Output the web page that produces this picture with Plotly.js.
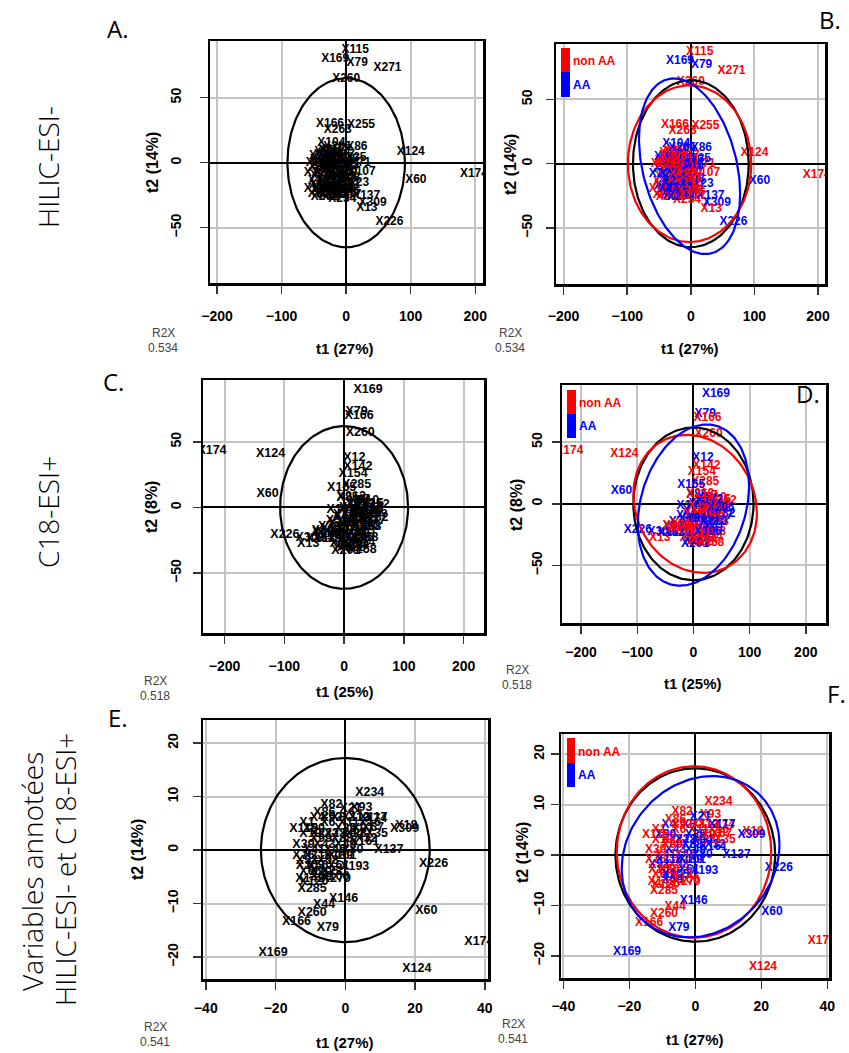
<!DOCTYPE html>
<html><head><meta charset="utf-8">
<script src="https://cdn.plot.ly/plotly-3.0.1.min.js"></script>
<style>html,body{margin:0;padding:0;background:#fff}</style>
</head><body><div id="chart" style="width:849px;height:1053px"></div>
<script>
// ---------- HILIC-ESI- (panels A, B) ----------
const hilicLabels = ["X115","X169","X79","X271","X260","X166","X255","X263","X124","X60","X174","X137","X309","X13","X226","X80","X234","X19","X86","X104","X71","X107","X23","X35",
 "X2","X5","X9","X14","X17","X20","X27","X31","X36","X40","X45","X48","X52","X57","X63","X66","X70","X75","X81","X84","X90","X95","X98","X102","X108","X113","X118","X121","X127","X131","X135","X140","X145","X150","X156","X162","X170","X178","X183","X190",
 "X200","X203","X207","X211","X215","X219","X222","X225","X229","X232","X236","X240","X244","X248","X252","X257","X265","X268","X274","X277"];
const hilicT1 = [14,-17,17,64,0,-25,23,-13,100,108,198,31,41,32,67,-43,-6,-38,16.5,-23,22,24,19,15,
 -38,-30,-20,-10,-3,-40,-32,-24,-15,-6,3,-42,-34,-26,-17,-8,1,-39,-30,-21,-12,-3,5,-36,-27,-18,-9,0,-33,-24,-15,-6,-38,-20,-12,-28,-5,-16,-44,-22,
 -36,-28,-18,-8,-2,-34,-44,-13,-25,-4,-30,-10,-20,-1,-41,-22,-14,-33,-16,2];
const hilicT2 = [87,80,76.5,72.5,64,30,29,25.5,8,-13.5,-9,-25.5,-31,-35,-45.5,-24,-28,-21,12.3,15.5,-0.5,-7.5,-15.5,4,
 8,9,7,8,6,2,3,1,2,0,2,-4,-5,-3,-6,-4,-6,-10,-12,-10,-12,-11,-12,-17,-18,-16,-18,-17,-22,-23,-22,-24,-14,4,-2,-8,-8,-14,-20,-25,
 5,6,-1,3,-2,-1,-8,-8,-14,-15,-20,-21,-19,-21,0,10,12,-26,-26,-25];
const hilicGroup = [1,2,2,1,1,1,1,1,1,2,1,2,2,1,2,1,1,2,2,2,1,1,2,2,
 1,1,1,2,1,1,2,2,1,2,2,2,1,2,2,1,2,1,2,1,2,1,2,2,1,2,1,2,1,2,1,2,1,2,1,2,1,1,1,2,
 2,1,2,1,2,1,2,1,2,1,2,1,2,1,1,1,2,1,2,1];
// ellipses: index 0 = all samples, 1 = non AA, 2 = AA
const hilicEllCx = [0,-2,-2], hilicEllCy = [0,0,-2], hilicEllRx = [91,97,79.5], hilicEllRy = [65,61,68.4], hilicEllRho = [0,0,-0.31];

// ---------- C18-ESI+ (panels C, D) ----------
const c18Labels = ["X169","X79","X166","X260","X174","X124","X12","X142","X154","X285","X165","X85","X60","X226","X309","X13","X259","X288",
 "X3","X7","X10","X15","X18","X22","X26","X30","X34","X38","X42","X47","X51","X55","X59","X64","X68","X72","X77","X83","X87","X91","X96","X100","X104","X109","X114","X119","X123","X128","X132","X136","X141","X147","X152","X158","X163",
 "X170","X172","X175","X177","X180","X182","X185","X187","X191","X194","X196","X198","X201","X204","X206","X208","X210","X213"];
const c18T1 = [40,21,25,27,-221,-123,17,23,15,21,-4,6,-128,-99,-57,-60,7,33,
 20,30,40,48,10,22,35,46,0,14,27,40,-12,5,18,32,44,-25,-8,8,22,36,-35,-18,-3,14,28,-28,0,12,50,40,25,-5,52,30,-40,
 15,28,38,45,6,19,33,-15,-2,10,25,-22,3,18,48,-30,35,12];
const c18T2 = [89.5,73,70,57,43,40.5,37.5,31,26,17.5,15,7,10.7,-21,-23,-27.5,-30,-23,
 5,6,5,3,0,1,0,-2,-6,-5,-6,-8,-10,-12,-11,-14,-15,-15,-17,-18,-19,-20,-19,-22,-24,-25,-27,-24,-28,-31,-8,-1,-12,-2,2,-32,-24,
 -2,3,-4,-10,-8,-15,-9,-16,-12,-21,-23,-20,-33,-29,-3,-18,-15,8];
const c18Group = [2,2,1,1,1,1,2,1,1,1,2,2,2,2,2,1,2,1,
 2,1,1,1,2,2,1,2,2,1,2,1,2,2,1,2,1,2,1,2,1,2,2,1,1,2,1,2,1,1,2,1,1,2,1,1,2,
 1,2,1,2,1,2,1,1,2,1,2,1,2,1,2,1,2,1];
const c18EllCx = [0,3,0], c18EllCy = [0,0,-1], c18EllRx = [107,110,99], c18EllRy = [62,56,65.4], c18EllRho = [0,-0.135,0.24];

// ---------- Variables annotées (panels E, F) ----------
const annotLabels = ["X234","X82","X93","X21","X74","X67","X18","X309","X161","X137","X226","X193","X142","X270","X285","X146","X44","X260","X166","X79","X169","X124","X60","X174","X189","X222",
 "X1","X4","X6","X8","X11","X13","X16","X19","X23","X25","X28","X32","X35","X39","X41","X43","X46","X49","X53","X56","X58","X61","X65","X69","X73","X76","X80","X86","X88",
 "X90","X92","X94","X97","X99","X101","X103","X105","X106","X110","X112","X115","X117","X120"];
const annotT1 = [7,-4,4.6,1.5,8.8,7.9,17.5,17,5.5,12.5,25.3,2.7,-10.2,-2.6,-9.5,-0.5,-6.1,-9.5,-14,-5,-20.7,20.5,23.2,38.3,-2,-6,
 -11,-8,-5,-2,1,4,7,-10,-3,0,3,6,9,-12,-9,-6,-3,0,-11,-8,-5,-2,-10,-7,-4,-12,2,-6,-1,
 -9,-4,2,5,-7,-1,-10,-6,-3,-8,3,-12,8,-9];
const annotT2 = [10.6,8.5,7.9,7.6,5.9,4.2,4.6,3.9,1.6,0,-2.5,-3.1,-5.3,-5.3,-7.2,-9.2,-10.3,-11.7,-13.4,-14.5,-19.2,-22.3,-11.4,-17.1,-1,3,
 5,6,5,6,5,6,5,3,3,4,3,2,3,1,0,1,0,1,-2,-3,-2,-3,-4,-5,-4,-1,0,7,2,
 4,6,3,4,2,-1,-3,-4,-5,-1,6,4,6,-6];
const annotGroup = [1,1,1,2,1,1,1,2,2,2,2,2,1,1,1,2,1,1,1,2,2,1,2,1,2,1,
 1,2,1,2,1,1,1,1,2,2,1,2,1,1,1,2,1,2,2,1,1,2,1,2,1,1,2,1,2,
 2,1,2,1,1,2,1,2,1,2,1,1,2,1];
const annotEllCx = [0,-0.4,1.6], annotEllCy = [0,0.6,-0.35], annotEllRx = [24.2,23.4,23.9], annotEllRy = [17.2,17,16], annotEllRho = [0,0,0.15];

// ---------- texts ----------
const rowLabels = ["HILIC-ESI-","C18-ESI+","Variables annotées","HILIC-ESI- et C18-ESI+"];
const panelLetters = ["A.","B.","C.","D.","E.","F."];
const xTitles = ["t1 (27%)","t1 (27%)","t1 (25%)","t1 (25%)","t1 (27%)","t1 (27%)"];
const yTitles = ["t2 (14%)","t2 (14%)","t2 (8%)","t2 (8%)","t2 (14%)","t2 (14%)"];
const r2xValues = ["0.534","0.534","0.518","0.518","0.541","0.541"];
const groupNames = ["non AA","AA"];
const ticksBig = [-200,-100,0,100,200], ticksY50 = [-50,0,50];
const ticksSmallX = [-40,-20,0,20,40], ticksSmallY = [-20,-10,0,10,20];

// ---------- build ----------
const W = 849, H = 1053;
const px = x => x / W, py = y => 1 - y / H;
const datasets = {
  hilic: {lab: hilicLabels, x: hilicT1, y: hilicT2, g: hilicGroup, cx: hilicEllCx, cy: hilicEllCy, rx: hilicEllRx, ry: hilicEllRy, rho: hilicEllRho},
  c18:   {lab: c18Labels, x: c18T1, y: c18T2, g: c18Group, cx: c18EllCx, cy: c18EllCy, rx: c18EllRx, ry: c18EllRy, rho: c18EllRho},
  annot: {lab: annotLabels, x: annotT1, y: annotT2, g: annotGroup, cx: annotEllCx, cy: annotEllCy, rx: annotEllRx, ry: annotEllRy, rho: annotEllRho}
};
const panels = [
  {box:[210,41,483,283], xr:[-211,212], yr:[-92.5,93.6], xt:ticksBig, yt:ticksY50, ds:'hilic', col:false, ys:13, xs:11, fs:12},
  {box:[556,44,825,284], xr:[-212,211], yr:[-93.7,93.2], xt:ticksBig, yt:ticksY50, ds:'hilic', col:true, ys:8, xs:10, fs:12},
  {box:[203,380,484,633], xr:[-236,234], yr:[-95.7,97.2], xt:ticksBig, yt:ticksY50, ds:'c18', col:false, ys:6, xs:11, fs:12.5},
  {box:[562,385,826,623], xr:[-234,236], yr:[-96.7,96.4], xt:ticksBig, yt:ticksY50, ds:'c18', col:true, ys:4, xs:7, fs:12},
  {box:[203,720,488,979], xr:[-40.8,40.9], yr:[-24.1,24.3], xt:ticksSmallX, yt:ticksSmallY, ds:'annot', col:false, ys:9, xs:7, fs:12.5},
  {box:[561,734,829,978], xr:[-40.7,40.5], yr:[-24.4,24], xt:ticksSmallX, yt:ticksSmallY, ds:'annot', col:true, ys:1, xs:6, fs:12}
];
const ellColors = ['#000000','#ff0000','#0000ff'];
const grpColors = {1:'#ff0000', 2:'#0000ff'};
const tickFont = {family:'Liberation Sans, Arial, sans-serif', size:14, color:'#000', weight:'bold'};

const traces = [];
const layout = {width:W, height:H, margin:{l:0,r:0,t:0,b:0}, paper_bgcolor:'#fff', plot_bgcolor:'#fff',
  showlegend:false, annotations:[], shapes:[], hovermode:false};

function ellipsePts(d, k){
  const xs = [], ys = [];
  const s = Math.sqrt(1 - d.rho[k]*d.rho[k]);
  for (let i = 0; i <= 200; i++){
    const t = 2*Math.PI*i/200;
    xs.push(d.cx[k] + d.rx[k]*Math.cos(t));
    ys.push(d.cy[k] + d.ry[k]*(d.rho[k]*Math.cos(t) + s*Math.sin(t)));
  }
  return {xs, ys};
}

panels.forEach((p, i) => {
  const n = i + 1, sfx = n === 1 ? '' : String(n);
  const [l, t, r, b] = p.box;
  layout['xaxis'+sfx] = {domain:[px(l), px(r)], range:p.xr, anchor:'y'+sfx, tickvals:p.xt,
    showgrid:true, gridcolor:'#c4c4c4', gridwidth:2, zeroline:true, zerolinecolor:'#000', zerolinewidth:2,
    showline:true, mirror:true, linecolor:'#000', linewidth:2.5, ticks:'outside', ticklen:8, tickwidth:1.5,
    tickcolor:'#333', tickfont:tickFont, ticklabelstandoff:p.xs, fixedrange:true};
  layout['yaxis'+sfx] = {domain:[py(b), py(t)], range:p.yr, anchor:'x'+sfx, tickvals:p.yt, tickangle:-90,
    showgrid:true, gridcolor:'#c4c4c4', gridwidth:2, zeroline:true, zerolinecolor:'#000', zerolinewidth:2,
    showline:true, mirror:true, linecolor:'#000', linewidth:2.5, ticks:'outside', ticklen:8, tickwidth:1.5,
    tickcolor:'#333', tickfont:tickFont, ticklabelstandoff:p.ys, fixedrange:true};
  const d = datasets[p.ds];
  traces.push({type:'scatter', mode:'text', x:d.x, y:d.y, text:d.lab, xaxis:'x'+sfx, yaxis:'y'+sfx,
    textposition:'middle center', cliponaxis:true,
    textfont:{family:'Liberation Sans, Arial, sans-serif', size:p.fs, weight:'bold',
      color: p.col ? d.g.map(g => grpColors[g]) : '#000'}});
  const ks = p.col ? [0,1,2] : [0];
  ks.forEach(k => {
    const e = ellipsePts(d, k);
    traces.push({type:'scatter', mode:'lines', x:e.xs, y:e.ys, xaxis:'x'+sfx, yaxis:'y'+sfx,
      line:{color:ellColors[k], width:2.2}, cliponaxis:true});
  });
});

// annotations helpers
function ann(text, x, y, opt){
  layout.annotations.push(Object.assign({text, x:px(x), y:py(y), xref:'paper', yref:'paper', showarrow:false,
    xanchor:'center', yanchor:'middle'}, opt));
}
const letterFont = {family:'Open Sans, Lato, sans-serif', size:24, color:'#000'};
const letterPos = [[117,28],[830,20],[113,381],[808,394],[118,717],[836,693]];
panelLetters.forEach((s, i) => ann(s, letterPos[i][0], letterPos[i][1], {font:letterFont}));

const rowFont = {family:'Open Sans, Lato, sans-serif', size:28, color:'#000', weight:300};
const rowPos = [[48,167],[48,512],[32,872],[65,870]];
rowLabels.forEach((s, i) => ann(s, rowPos[i][0], rowPos[i][1], {font:rowFont, textangle:-90}));

const titleFont = {family:'Liberation Sans, Arial, sans-serif', size:15, color:'#000', weight:'bold'};
const yTitleFont = {family:'Liberation Sans, Arial, sans-serif', size:16, color:'#000', weight:'bold'};
const xTitlePos = [[345,348],[690,348],[345,691],[693,683],[345,1042],[695,1039]];
const yTitlePos = [[152,163],[511,164],[152,507],[516,505],[137,850],[522,853]];
xTitles.forEach((s, i) => ann(s, xTitlePos[i][0], xTitlePos[i][1], {font:titleFont}));
yTitles.forEach((s, i) => ann(s, yTitlePos[i][0], yTitlePos[i][1], {font:yTitleFont, textangle:-90}));

const r2xFont = {family:'Liberation Sans, Arial, sans-serif', size:12, color:'#444'};
const r2xPos = [[163,333],[510,333],[155,681],[517,670],[155,1027],[513,1024]];
r2xValues.forEach((v, i) => {
  ann('R2X', r2xPos[i][0], r2xPos[i][1], {font:r2xFont});
  ann(v, r2xPos[i][0], r2xPos[i][1] + 15, {font:r2xFont});
});

// group legends on colored panels
const legBoxes = [[561,48,570,72,97],[567,390,576,414,438],[567,738,575,763,787]];
legBoxes.forEach(bx => {
  const [x0, y0, x1, ym, y1] = bx;
  layout.shapes.push({type:'rect', xref:'paper', yref:'paper', x0:px(x0), x1:px(x1), y0:py(ym), y1:py(y0),
    fillcolor:'#ff0000', line:{width:0}});
  layout.shapes.push({type:'rect', xref:'paper', yref:'paper', x0:px(x0), x1:px(x1), y0:py(y1), y1:py(ym),
    fillcolor:'#0000ff', line:{width:0}});
  const lf = {family:'Liberation Sans, Arial, sans-serif', size:12, weight:'bold'};
  ann(groupNames[0], x1 + 1, (y0 + ym)/2 + 1, {xanchor:'left', font:Object.assign({color:'#ff0000'}, lf)});
  ann(groupNames[1], x1 + 1, (ym + y1)/2, {xanchor:'left', font:Object.assign({color:'#0000ff'}, lf)});
});

Plotly.newPlot('chart', traces, layout, {staticPlot:true, displayModeBar:false});
</script></body></html>
